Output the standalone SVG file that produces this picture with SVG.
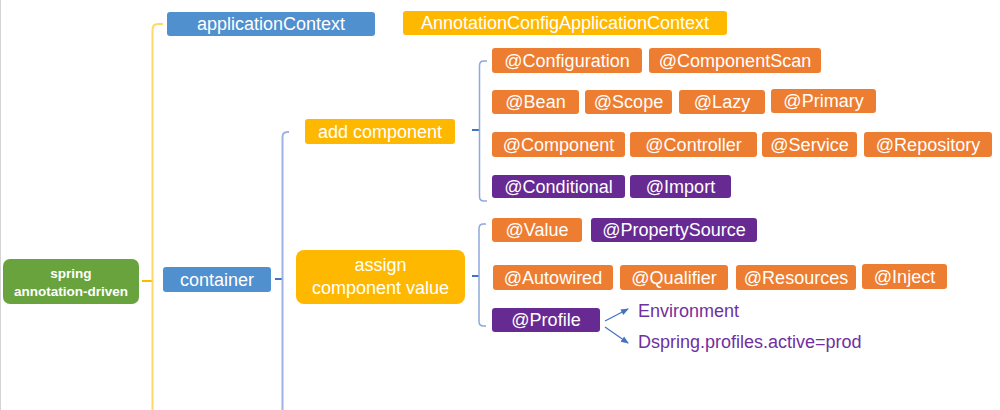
<svg xmlns="http://www.w3.org/2000/svg" width="1000" height="410" viewBox="0 0 1000 410">
<defs>
<style>
.t{font-family:"Liberation Sans",Arial,sans-serif;font-size:18px;fill:#fff;text-anchor:middle}
.tb{font-family:"Liberation Sans",Arial,sans-serif;font-size:13.5px;font-weight:bold;fill:#fff;text-anchor:middle}
.lbl{font-family:"Liberation Sans",Arial,sans-serif;font-size:18px;fill:#7030A0}
.or{fill:#ED7D31}
.pu{fill:#672A92}
.bl{fill:#5190CF}
.go{fill:#FFB800}
.gr{fill:#68A33E}
.c{fill:none;stroke-linecap:butt}
</style>
<marker id="ah" markerWidth="8" markerHeight="8" refX="7" refY="4" orient="auto" markerUnits="userSpaceOnUse">
<path d="M0,0.8 L8,4 L0,7.2 Z" fill="#4472C4"/>
</marker>
</defs>
<rect width="1000" height="410" fill="#fff"/>
<line x1="0.5" y1="0" x2="0.5" y2="410" stroke="#d4d4d4" stroke-width="1"/>

<g id="connectors">
<line class="c" x1="142" y1="281" x2="153" y2="281" stroke="#FFB800" stroke-width="2"/>
<path class="c" d="M163,24 H158 Q152.5,24 152.5,30 V410" stroke="#FFD966" stroke-width="2"/>
<line class="c" x1="275" y1="279" x2="283" y2="279" stroke="#4472C4" stroke-width="2"/>
<path class="c" d="M289,132 H287.5 Q282.5,132 282.5,137 V410" stroke="#9DB3E2" stroke-width="2"/>
<line class="c" x1="472" y1="130" x2="480" y2="130" stroke="#4472C4" stroke-width="2"/>
<path class="c" d="M487,61 H484 Q479.5,61 479.5,65.5 V196.5 Q479.5,201 484,201 H487" stroke="#8EA9DB" stroke-width="1.5"/>
<line class="c" x1="472" y1="276" x2="479" y2="276" stroke="#4472C4" stroke-width="2"/>
<path class="c" d="M486,224 H483.5 Q479,224 479,228.5 V321.5 Q479,326 483.5,326 H486" stroke="#8EA9DB" stroke-width="1.5"/>
<line class="c" x1="605" y1="321" x2="628" y2="309" stroke="#4472C4" stroke-width="1.3" marker-end="url(#ah)"/>
<line class="c" x1="605" y1="327" x2="628" y2="343" stroke="#4472C4" stroke-width="1.3" marker-end="url(#ah)"/>
</g>

<g id="root"><rect class="gr" x="3" y="259" width="136" height="45" rx="7"/><text class="tb" x="71" y="278">spring</text><text class="tb" x="71" y="296">annotation-driven</text></g>
<g id="applicationContext"><rect class="bl" x="167" y="12" width="208" height="24" rx="3"/><text class="t" x="271" y="30">applicationContext</text></g>
<g id="annotationConfigApplicationContext"><rect class="go" x="403" y="11" width="324" height="24" rx="3"/><text class="t" x="565" y="29">AnnotationConfigApplicationContext</text></g>
<g id="container"><rect class="bl" x="163" y="267" width="108" height="25" rx="3"/><text class="t" x="217" y="285.5">container</text></g>
<g id="addComponent"><rect class="go" x="305" y="119" width="150" height="25" rx="3"/><text class="t" x="380" y="137.5">add component</text></g>
<g id="assignComponentValue"><rect class="go" x="296" y="250" width="169" height="54" rx="8"/><text class="t" x="380.5" y="271">assign</text><text class="t" x="380.5" y="294">component value</text></g>

<g id="configuration"><rect class="or" x="492" y="48" width="150" height="25" rx="3"/><text class="t" x="567" y="66.5">@Configuration</text></g>
<g id="componentScan"><rect class="or" x="649" y="48" width="172" height="25" rx="3"/><text class="t" x="735" y="66.5">@ComponentScan</text></g>
<g id="bean"><rect class="or" x="492" y="90" width="87" height="24" rx="3"/><text class="t" x="535.5" y="108">@Bean</text></g>
<g id="scope"><rect class="or" x="585" y="90" width="87" height="24" rx="3"/><text class="t" x="628.5" y="108">@Scope</text></g>
<g id="lazy"><rect class="or" x="679" y="90" width="86" height="24" rx="3"/><text class="t" x="722" y="108">@Lazy</text></g>
<g id="primary"><rect class="or" x="771" y="89" width="105" height="24" rx="3"/><text class="t" x="823.5" y="107">@Primary</text></g>
<g id="component"><rect class="or" x="492" y="132" width="133" height="25" rx="3"/><text class="t" x="558.5" y="150.5">@Component</text></g>
<g id="controller"><rect class="or" x="630" y="132" width="127" height="25" rx="3"/><text class="t" x="693.5" y="150.5">@Controller</text></g>
<g id="service"><rect class="or" x="762" y="132" width="95" height="25" rx="3"/><text class="t" x="809.5" y="150.5">@Service</text></g>
<g id="repository"><rect class="or" x="864" y="132" width="128" height="25" rx="3"/><text class="t" x="928" y="150.5">@Repository</text></g>
<g id="conditional"><rect class="pu" x="492" y="175" width="133" height="23" rx="3"/><text class="t" x="558.5" y="192.5">@Conditional</text></g>
<g id="import"><rect class="pu" x="630" y="175" width="101" height="23" rx="3"/><text class="t" x="680.5" y="192.5">@Import</text></g>

<g id="value"><rect class="or" x="492" y="218" width="90" height="24" rx="3"/><text class="t" x="537" y="236">@Value</text></g>
<g id="propertySource"><rect class="pu" x="591" y="218" width="166" height="24" rx="3"/><text class="t" x="674" y="236">@PropertySource</text></g>
<g id="autowired"><rect class="or" x="493" y="265" width="120" height="25" rx="3"/><text class="t" x="553" y="283.5">@Autowired</text></g>
<g id="qualifier"><rect class="or" x="620" y="265" width="108" height="25" rx="3"/><text class="t" x="674" y="283.5">@Qualifier</text></g>
<g id="resources"><rect class="or" x="736" y="265" width="120" height="25" rx="3"/><text class="t" x="796" y="283.5">@Resources</text></g>
<g id="inject"><rect class="or" x="862" y="264" width="85" height="25" rx="3"/><text class="t" x="904.5" y="282.5">@Inject</text></g>
<g id="profile"><rect class="pu" x="492" y="308" width="108" height="24" rx="3"/><text class="t" x="546" y="326">@Profile</text></g>
<g id="environment"><text class="lbl" x="638" y="317">Environment</text></g>
<g id="activeProfile"><text class="lbl" x="638" y="348">Dspring.profiles.active=prod</text></g>
</svg>
